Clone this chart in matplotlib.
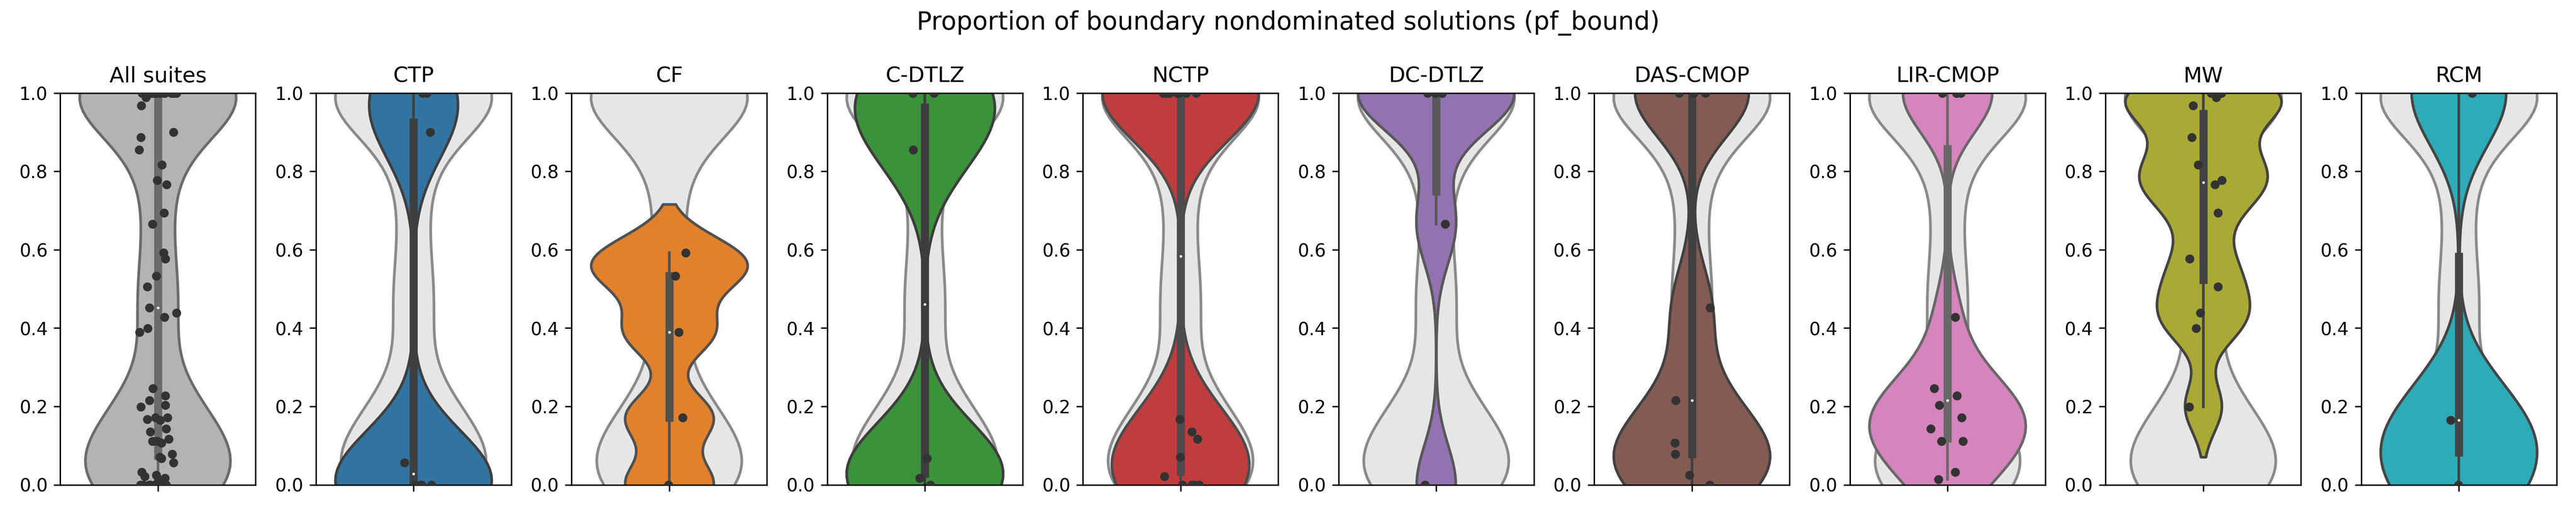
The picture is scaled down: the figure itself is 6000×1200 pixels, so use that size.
import colorsys
import numpy as np
import matplotlib
matplotlib.use("Agg")
import matplotlib.pyplot as plt
import seaborn as sns

# values, one list per suite
suites = ["CTP", "CF", "C-DTLZ", "NCTP", "DC-DTLZ", "DAS-CMOP", "LIR-CMOP", "MW", "RCM"]

ctp = [0.0, 0.0, 0.0, 0.0, 0.056, 0.90, 1.0, 1.0]
cf = [0.0, 0.172, 0.39, 0.533, 0.592]
c_dtlz = [0.0, 0.017, 0.067, 0.855, 1.0, 1.0]
nctp = [0.0, 0.0, 0.0, 0.0, 0.021, 0.071, 0.117, 0.135, 0.167,
        1.0, 1.0, 1.0, 1.0, 1.0, 1.0, 1.0, 1.0, 1.0]
dc_dtlz = [0.0, 0.666, 1.0, 1.0, 1.0, 1.0]
das_cmop = [0.0, 0.025, 0.078, 0.107, 0.215, 0.452, 1.0, 1.0, 1.0]
lir_cmop = [0.014, 0.032, 0.111, 0.111, 0.143, 0.171, 0.203, 0.2275, 0.246, 0.428,
            1.0, 1.0, 1.0, 1.0]
mw = [0.199, 0.399, 0.439, 0.506, 0.577, 0.694, 0.767, 0.778, 0.817, 0.8875,
      0.968, 0.989, 1.0, 1.0]
rcm = [0.0, 0.165, 1.0]

suite_values = [ctp, cf, c_dtlz, nctp, dc_dtlz, das_cmop, lir_cmop, mw, rcm]
suite_colors = ["tab:blue", "tab:orange", "tab:green", "tab:red", "tab:purple",
                "tab:brown", "tab:pink", "tab:olive", "tab:cyan"]

all_vals = np.concatenate([np.array(v, dtype=float) for v in suite_values])

BW = 0.25   # kde bandwidth factor
LW = 1.5


def box_gray(color):
    rgb = sns.desaturate(color, 0.75)
    lum = colorsys.rgb_to_hls(*rgb)[1] * 0.6
    return (lum, lum, lum)


def inner_box(ax, vals, color):
    # old-style seaborn inner box: whisker line, thick iqr line, white median dot
    vals = np.asarray(vals, dtype=float)
    gray = box_gray(color)
    q25, q50, q75 = np.percentile(vals, [25, 50, 75])
    iqr = q75 - q25
    lo = vals[vals >= q25 - 1.5 * iqr].min()
    hi = vals[vals <= q75 + 1.5 * iqr].max()
    ax.plot([0, 0], [lo, hi], lw=LW, color=gray, zorder=2)
    ax.plot([0, 0], [q25, q75], lw=LW * 3, color=gray, zorder=2)
    ax.scatter(0, q50, zorder=3, color="white", edgecolor=gray,
               s=(LW * 2) ** 2, linewidths=LW)


def violin(ax, vals, color, inner=True):
    sns.violinplot(y=vals, ax=ax, color=color, inner=None, bw_method=BW, linewidth=LW)
    if inner:
        inner_box(ax, vals, color)


def strip(ax, vals):
    sns.stripplot(y=vals, ax=ax, color=".2", size=5, zorder=4)


np.random.seed(3)
fig, axes = plt.subplots(1, 10, figsize=(20, 4))

ax = axes[0]
violin(ax, all_vals, "0.7")
strip(ax, all_vals)
ax.set_title("All suites")

for ax, name, vals, col in zip(axes[1:], suites, suite_values, suite_colors):
    # whole population in light gray behind each suite
    violin(ax, all_vals, "0.9", inner=False)
    violin(ax, vals, col)
    strip(ax, vals)
    ax.set_title(name)

for ax in axes:
    ax.set_ylim(0, 1)
    ax.set_xlim(-0.5, 0.5)
    ax.set_ylabel("")
    ax.set_xlabel("")
    ax.set_xticks([0])
    ax.set_xticklabels([""])

fig.suptitle("Proportion of boundary nondominated solutions (pf_bound)", fontsize=14)
fig.tight_layout()
fig.savefig("out.png", dpi=300)
